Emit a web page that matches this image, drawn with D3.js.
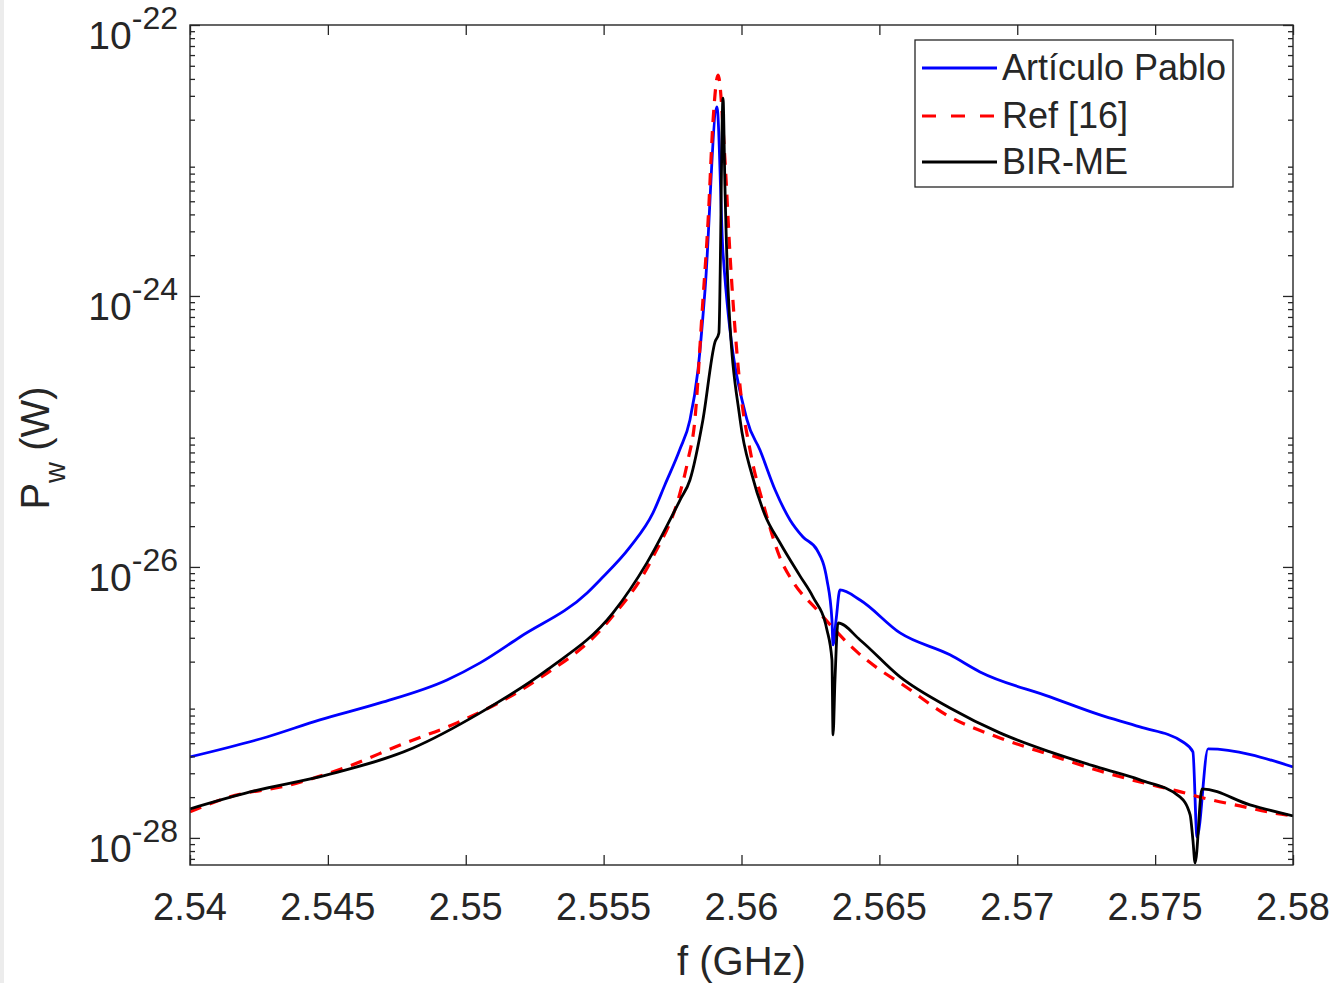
<!DOCTYPE html>
<html>
<head>
<meta charset="utf-8">
<script src="https://cdn.jsdelivr.net/npm/d3@7"></script>
<style>
  html, body { margin: 0; padding: 0; background: #ffffff; }
  svg { display: block; }
  text { font-family: "Liberation Sans", Arial, Helvetica, sans-serif; fill: #262626; }
</style>
</head>
<body>
<svg id="chart" width="1335" height="983"></svg>
<script>
// ---- Data (frequency in GHz, power as log10 of watts) ----
const freqArticulo = [2.54000, 2.54279, 2.54471, 2.54689, 2.54932, 2.55052, 2.55197, 2.55440, 2.55487, 2.55596,
  2.55679, 2.55722, 2.55777, 2.55813, 2.55842, 2.55868, 2.55911, 2.55933, 2.56020, 2.56067, 2.56122, 2.56176,
  2.56223, 2.56274, 2.56310, 2.56328, 2.56332, 2.56343, 2.56357, 2.56430, 2.56575, 2.56756, 2.56865, 2.57119,
  2.57300, 2.57445, 2.57601, 2.57637, 2.57652, 2.57692, 2.58000];
const log10PArticulo = [-27.402, -27.255, -27.129, -27.004, -26.834, -26.708, -26.517, -26.192, -26.096, -25.852,
  -25.601, -25.395, -25.130, -24.915, -24.550, -23.950, -22.605, -23.683, -24.915, -25.137, -25.432, -25.653,
  -25.779, -25.875, -26.096, -26.391, -26.576, -26.391, -26.170, -26.244, -26.487, -26.649, -26.775, -26.959,
  -27.092, -27.181, -27.292, -27.365, -27.993, -27.343, -27.476];

const freqRef16 = [2.54000, 2.54145, 2.54363, 2.54569, 2.54762, 2.54968, 2.55258, 2.55512, 2.55679, 2.55777,
  2.55806, 2.55831, 2.55857, 2.55879, 2.55897, 2.55915, 2.55940, 2.55958, 2.55995, 2.56031, 2.56085, 2.56140,
  2.56187, 2.56274, 2.56332, 2.56419, 2.56502, 2.56575, 2.56756, 2.56937, 2.57119, 2.57300, 2.57445, 2.57579,
  2.57688, 2.57808, 2.57927, 2.58000];
const log10PRef16 = [-27.808, -27.697, -27.609, -27.476, -27.314, -27.151, -26.834, -26.413, -25.926, -25.454,
  -25.210, -24.915, -24.125, -23.439, -22.701, -22.369, -22.996, -23.683, -24.672, -25.137, -25.579, -25.934,
  -26.111, -26.317, -26.450, -26.627, -26.760, -26.856, -27.107, -27.262, -27.387, -27.506, -27.587, -27.653,
  -27.712, -27.764, -27.815, -27.838];

const freqBIRME = [2.54000, 2.54218, 2.54497, 2.54809, 2.55052, 2.55295, 2.55534, 2.55657, 2.55777, 2.55813,
  2.55860, 2.55904, 2.55918, 2.55933, 2.55940, 2.55951, 2.55995, 2.56038, 2.56085, 2.56140, 2.56212, 2.56259,
  2.56310, 2.56328, 2.56332, 2.56339, 2.56350, 2.56430, 2.56575, 2.56756, 2.56937, 2.57119, 2.57300, 2.57445,
  2.57590, 2.57627, 2.57637, 2.57645, 2.57670, 2.57844, 2.58000];
const log10PBIRME = [-27.786, -27.661, -27.535, -27.336, -27.077, -26.760, -26.339, -25.970, -25.506, -25.358,
  -24.915, -24.339, -24.273, -22.539, -23.196, -23.934, -24.915, -25.321, -25.616, -25.823, -26.066, -26.221,
  -26.465, -26.686, -27.240, -26.834, -26.413, -26.539, -26.812, -27.041, -27.225, -27.365, -27.483, -27.572,
  -27.697, -27.830, -28.015, -28.185, -27.638, -27.756, -27.838];

const seriesNames = ["Artículo Pablo", "Ref [16]", "BIR-ME"];
const xTickValues = [2.54, 2.545, 2.55, 2.555, 2.56, 2.565, 2.57, 2.575, 2.58];
const yTickExponents = [-22, -24, -26, -28];
const xDomain = [2.54, 2.58];
const yDomain = [Math.pow(10, -28.2), 1e-22];
const xLabel = "f (GHz)";

// ---- Layout ----
const svg = d3.select("#chart");
const W = 1335, H = 983;
const plot = { left: 190, right: 1293, top: 25, bottom: 865 };
const axisColor = "#262626";

svg.append("rect").attr("x", 0).attr("y", 0).attr("width", W).attr("height", H).attr("fill", "#ffffff");
svg.append("rect").attr("x", 0).attr("y", 0).attr("width", 4).attr("height", H).attr("fill", "#ececec");

const x = d3.scaleLinear().domain(xDomain).range([plot.left, plot.right]);
const y = d3.scaleLog().domain(yDomain).range([plot.bottom, plot.top]);

svg.append("defs").append("clipPath").attr("id", "clip")
  .append("rect").attr("x", plot.left).attr("y", plot.top)
  .attr("width", plot.right - plot.left).attr("height", plot.bottom - plot.top);

// ---- Series ----
function toPoints(fs, ls) { return fs.map((f, i) => ({ f: f, p: Math.pow(10, ls[i]) })); }
const series = [
  { name: seriesNames[0], pts: toPoints(freqArticulo, log10PArticulo), color: "#0000ff", width: 2.8, dash: null, legendDash: null },
  { name: seriesNames[1], pts: toPoints(freqRef16, log10PRef16), color: "#ff0000", width: 3.2, dash: "12,9", legendDash: "14,15" },
  { name: seriesNames[2], pts: toPoints(freqBIRME, log10PBIRME), color: "#000000", width: 2.8, dash: null, legendDash: null }
];

const line = d3.line().x(d => x(d.f)).y(d => y(d.p)).curve(d3.curveMonotoneX);
const lines = svg.append("g").attr("clip-path", "url(#clip)");
series.forEach(s => {
  lines.append("path").datum(s.pts)
    .attr("d", line).attr("fill", "none")
    .attr("stroke", s.color).attr("stroke-width", s.width)
    .attr("stroke-dasharray", s.dash).attr("stroke-linejoin", "round");
});

// ---- Axes (MATLAB style: inward ticks, box) ----
const minorY = [];
for (let e = -29; e <= -23; e++) for (let m = 2; m <= 9; m++) {
  const v = m * Math.pow(10, e);
  if (v >= yDomain[0] && v <= yDomain[1]) minorY.push(v);
}
const majorY = yTickExponents.map(e => Math.pow(10, e));

function styleAxis(g) {
  g.select(".domain").remove();
  g.selectAll("line").attr("stroke", axisColor).attr("stroke-width", 1.3);
  g.selectAll("text").remove();
}
svg.append("g").attr("transform", `translate(0,${plot.bottom})`)
  .call(d3.axisBottom(x).tickValues(xTickValues).tickSize(-10)).call(styleAxis);
svg.append("g").attr("transform", `translate(0,${plot.top})`)
  .call(d3.axisTop(x).tickValues(xTickValues).tickSize(-10)).call(styleAxis);
svg.append("g").attr("transform", `translate(${plot.left},0)`)
  .call(d3.axisLeft(y).tickValues(majorY).tickSize(-10)).call(styleAxis);
svg.append("g").attr("transform", `translate(${plot.left},0)`)
  .call(d3.axisLeft(y).tickValues(minorY).tickSize(-5)).call(styleAxis);
svg.append("g").attr("transform", `translate(${plot.right},0)`)
  .call(d3.axisRight(y).tickValues(majorY).tickSize(-10)).call(styleAxis);
svg.append("g").attr("transform", `translate(${plot.right},0)`)
  .call(d3.axisRight(y).tickValues(minorY).tickSize(-5)).call(styleAxis);

svg.append("rect").attr("x", plot.left).attr("y", plot.top)
  .attr("width", plot.right - plot.left).attr("height", plot.bottom - plot.top)
  .attr("fill", "none").attr("stroke", axisColor).attr("stroke-width", 1.4);

// tick labels
svg.append("g").selectAll("text").data(xTickValues).join("text")
  .attr("x", d => x(d)).attr("y", plot.bottom + 55)
  .attr("text-anchor", "middle").attr("font-size", 38)
  .text(d => String(+d.toFixed(3)));

const yl = svg.append("g").selectAll("text").data(yTickExponents).join("text")
  .attr("x", plot.left - 12).attr("y", d => y(Math.pow(10, d)) + 24)
  .attr("text-anchor", "end").attr("font-size", 39);
yl.append("tspan").text("10");
yl.append("tspan").attr("font-size", 32).attr("dy", -20).text(d => "-" + Math.abs(d));

// axis labels
svg.append("text").attr("x", (plot.left + plot.right) / 2).attr("y", 975)
  .attr("text-anchor", "middle").attr("font-size", 40).text(xLabel);

const ylab = svg.append("text").attr("transform", "translate(49,448) rotate(-90)")
  .attr("text-anchor", "middle").attr("font-size", 40);
ylab.append("tspan").text("P");
ylab.append("tspan").attr("font-size", 29).attr("dy", 16).text("w");
ylab.append("tspan").attr("dy", -16).text(" (W)");

// ---- Legend ----
const lg = svg.append("g");
lg.append("rect").attr("x", 915).attr("y", 40).attr("width", 318).attr("height", 147)
  .attr("fill", "#ffffff").attr("stroke", axisColor).attr("stroke-width", 1.3);
const rowsY = [68, 116, 162];
series.forEach((s, i) => {
  lg.append("line").attr("x1", 922).attr("x2", 997).attr("y1", rowsY[i]).attr("y2", rowsY[i])
    .attr("stroke", s.color).attr("stroke-width", s.width).attr("stroke-dasharray", s.legendDash);
  lg.append("text").attr("x", 1002).attr("y", rowsY[i] + 12).attr("font-size", 36).text(s.name);
});
</script>
</body>
</html>
